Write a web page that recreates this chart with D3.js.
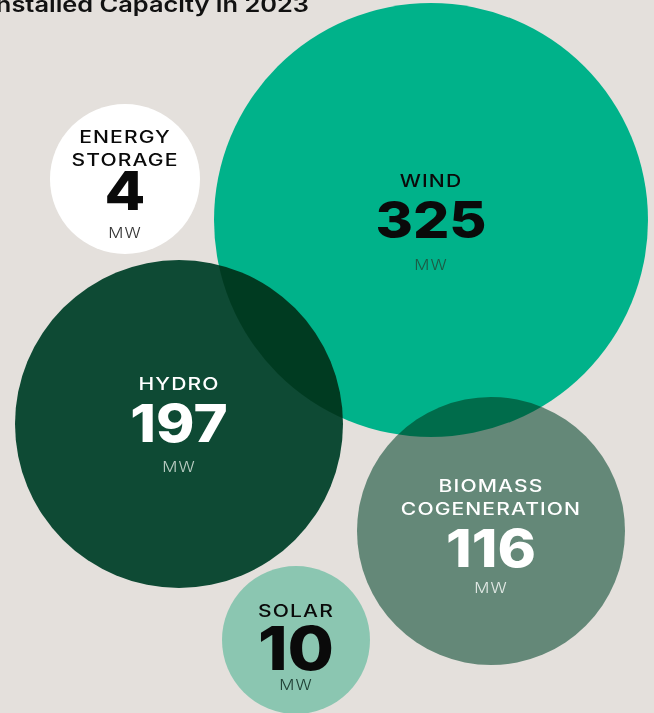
<!DOCTYPE html>
<html>
<head>
<meta charset="utf-8">
<title>Installed Capacity in 2023</title>
<script src="https://d3js.org/d3.v7.min.js"></script>
<style>
body { margin: 0; background: #e4e0dc; overflow: hidden; }
svg { display: block; font-family: Inter, "Open Sans", sans-serif; }
.bubble-label { font-size: 17px; font-weight: 500; text-anchor: middle; letter-spacing: 0.9px; }
.bubble-value { font-weight: 800; text-anchor: middle; }
.bubble-unit { font-size: 14px; font-weight: 300; text-anchor: middle; letter-spacing: 1px; }
</style>
</head>
<body>
<svg id="chart" width="654" height="713"></svg>
<script>
// data
var title = "Installed Capacity in 2023";
var categories = ["Wind", "Hydro", "Energy Storage", "Biomass Cogeneration", "Solar"];
var capacityMW = [325, 197, 4, 116, 10];
var unit = "MW";

// hand placed bubble layout (centre, radius, text baselines) per category
var layout = {
  "Wind":                 {cx: 431, cy: 220, r: 217, lab: 187, num: 238, mw: 270, size: 51},
  "Hydro":                {cx: 179, cy: 424, r: 164, lab: 390, num: 442, mw: 472, size: 52},
  "Energy Storage":       {cx: 125, cy: 179, r: 75,  lab: 143, num: 210, mw: 238, size: 53},
  "Biomass Cogeneration": {cx: 491, cy: 531, r: 134, lab: 492, num: 567, mw: 593, size: 52},
  "Solar":                {cx: 296, cy: 640, r: 74,  lab: 617, num: 670, mw: 690, size: 60}
};

var fill = d3.scaleOrdinal()
  .domain(categories)
  .range(["#00b28a", "#0f543c", "#ffffff", "#709b8b", "#8bc6b1"]);
var blend = d3.scaleOrdinal()
  .domain(categories)
  .range(["normal", "multiply", "normal", "multiply", "normal"]);
var ink = d3.scaleOrdinal()
  .domain(categories)
  .range(["#0a0a0a", "#ffffff", "#0a0a0a", "#ffffff", "#0a0a0a"]);
var unitInk = d3.scaleOrdinal()
  .domain(categories)
  .range(["#1d5a44", "#b9ccc2", "#333333", "#e2e9e5", "#1f4034"]);

var rows = categories.map(function (c, i) {
  return {name: c, value: capacityMW[i], pos: layout[c]};
});

// the original face is a wide geometric sans, so stretch ours a little
function place(x, y, sx) {
  return "translate(" + x + "," + y + ") scale(" + sx + ",1)";
}

var svg = d3.select("#chart");
svg.append("rect").attr("width", 654).attr("height", 713).attr("fill", "#e4e0dc");

svg.append("text")
  .attr("transform", place(309, 12, 1.21))
  .attr("text-anchor", "end")
  .style("font-size", "21px").style("font-weight", 600)
  .attr("fill", "#111")
  .text(title);

svg.append("g").attr("class", "bubbles")
  .selectAll("circle")
  .data(rows)
  .join("circle")
    .attr("cx", function (d) { return d.pos.cx; })
    .attr("cy", function (d) { return d.pos.cy; })
    .attr("r", function (d) { return d.pos.r; })
    .attr("fill", function (d) { return fill(d.name); })
    .style("mix-blend-mode", function (d) { return blend(d.name); });

var labels = svg.append("g").attr("class", "labels")
  .selectAll("g")
  .data(rows)
  .join("g");

labels.each(function (d) {
  var g = d3.select(this);
  var words = d.name.toUpperCase().split(" ");
  words.forEach(function (w, i) {
    g.append("text").attr("class", "bubble-label")
      .attr("transform", place(d.pos.cx, d.pos.lab + i * 23, 1.24))
      .attr("fill", ink(d.name))
      .text(w);
  });
  g.append("text").attr("class", "bubble-value")
    .attr("transform", place(d.pos.cx, d.pos.num, 1.12))
    .style("font-size", d.pos.size + "px")
    .attr("fill", ink(d.name))
    .text(d.value);
  g.append("text").attr("class", "bubble-unit")
    .attr("transform", place(d.pos.cx, d.pos.mw, 1.2))
    .attr("fill", unitInk(d.name))
    .text(unit);
});
</script>
</body>
</html>
